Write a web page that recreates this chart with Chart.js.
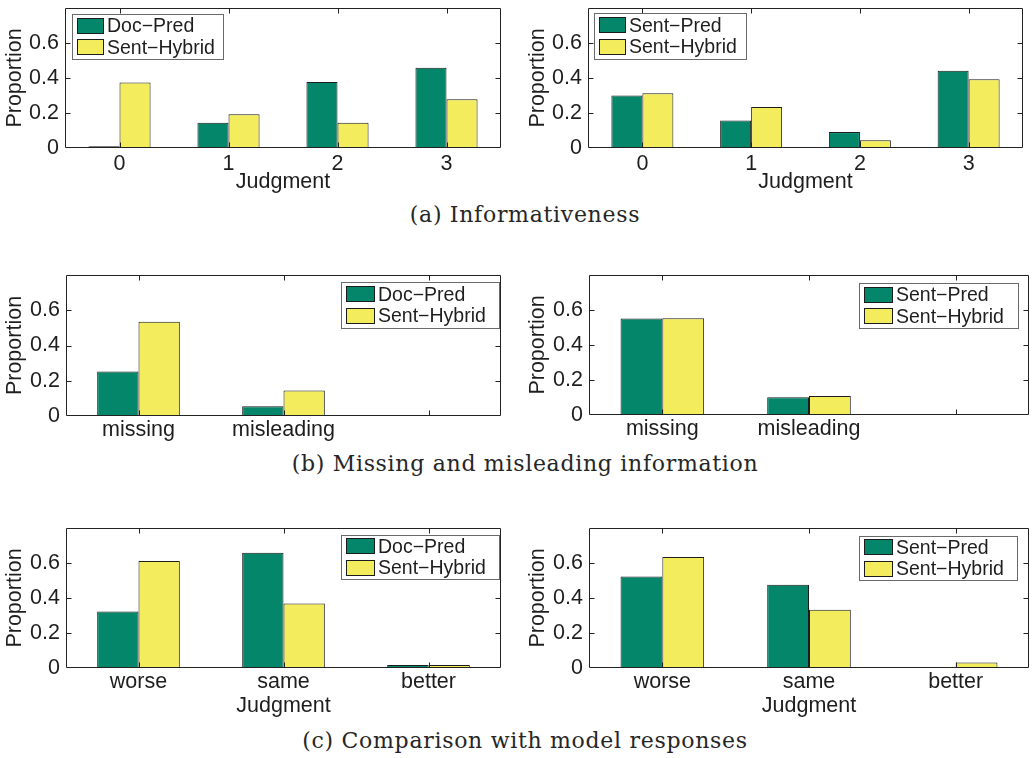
<!DOCTYPE html>
<html>
<head>
<meta charset="utf-8">
<script src="https://cdn.jsdelivr.net/npm/chart.js@4.4.1/dist/chart.umd.min.js"></script>
<style>
  html,body{margin:0;padding:0;background:#fff;}
  #wrap{position:relative;width:1033px;height:758px;background:#fff;overflow:hidden;}
  canvas{position:absolute;}
  .cap{position:absolute;left:0;width:1050px;text-align:center;font-family:"DejaVu Serif",serif;font-size:22px;line-height:22px;letter-spacing:0.7px;color:#262626;white-space:nowrap;}
</style>
</head>
<body>
<div id="wrap">
  <canvas id="p1"></canvas>
  <canvas id="p2"></canvas>
  <canvas id="p3"></canvas>
  <canvas id="p4"></canvas>
  <canvas id="p5"></canvas>
  <canvas id="p6"></canvas>
  <div class="cap" style="top:204px">(a) Informativeness</div>
  <div class="cap" style="top:453px">(b) Missing and misleading information</div>
  <div class="cap" style="top:730px">(c) Comparison with model responses</div>
</div>
<script>
// ---------- data ----------
const judgmentLabels = ['0', '1', '2', '3'];
const missLabels = ['missing', 'misleading', ''];
const compLabels = ['worse', 'same', 'better'];
const yTickValues = [0, 0.2, 0.4, 0.6];

const nameDocPred = 'Doc\u2212Pred';
const nameSentPred = 'Sent\u2212Pred';
const nameSentHybrid = 'Sent\u2212Hybrid';

const infoDocPred      = [0.010, 0.145, 0.377, 0.459];
const infoDocSentHyb   = [0.375, 0.193, 0.145, 0.278];
const infoSentPred     = [0.300, 0.157, 0.091, 0.442];
const infoSentSentHyb  = [0.313, 0.234, 0.044, 0.393];

const missDocPred      = [0.253, 0.055, null];
const missDocSentHyb   = [0.535, 0.144, null];
const missSentPred     = [0.551, 0.102, null];
const missSentSentHyb  = [0.553, 0.109, null];

const compDocPred      = [0.323, 0.659, 0.017];
const compDocSentHyb   = [0.612, 0.368, 0.017];
const compSentPred     = [0.523, 0.476, 0.000];
const compSentSentHyb  = [0.635, 0.333, 0.032];

// ---------- styling ----------
const GREEN = '#03866A';
const YELLOW = '#F3EC5C';
const EDGE = '#1c1c1c';
const TXT = '#1e1e1e';
const FAM = '"Liberation Sans", Arial, Helvetica, sans-serif';
const FS = 21.5;

const framePlugin = {
  id: 'frame',
  afterDatasetsDraw(chart) {
    const {ctx, chartArea, scales} = chart;
    const x = scales.x, y = scales.y;
    const L = Math.round(chartArea.left) + 0.5, R = Math.round(chartArea.right) - 0.5;
    const T = Math.round(chartArea.top) + 0.5, B = Math.round(chartArea.bottom) - 0.5;
    ctx.save();
    ctx.strokeStyle = '#222';
    ctx.lineWidth = 1;
    ctx.beginPath();
    ctx.rect(L, T, R - L, B - T);
    y.ticks.forEach(t => {
      if (t.value <= 0) return;
      const py = Math.round(y.getPixelForValue(t.value)) + 0.5;
      ctx.moveTo(L, py); ctx.lineTo(L + 5, py);
      ctx.moveTo(R, py); ctx.lineTo(R - 5, py);
    });
    x.ticks.forEach((t, i) => {
      const px = Math.round(x.getPixelForTick(i)) + 0.5;
      ctx.moveTo(px, T); ctx.lineTo(px, T + 5);
      ctx.moveTo(px, B); ctx.lineTo(px, B - 5);
    });
    ctx.stroke();
    ctx.restore();
  }
};

const boxLegendPlugin = {
  id: 'boxLegend',
  afterDraw(chart, args, o) {
    const ctx = chart.ctx, ca = chart.chartArea;
    const ds = chart.data.datasets;
    ctx.save();
    ctx.font = '19.5px ' + FAM;
    const w = o.w, h = o.h, rowH = 21.6;
    const x0 = Math.round(o.align === 'left' ? ca.left + o.dx : ca.right - o.dx - w);
    const y0 = Math.round(ca.top + o.dy);
    ctx.fillStyle = '#fff';
    ctx.fillRect(x0, y0, w, h);
    ctx.strokeStyle = '#6a6a6a';
    ctx.lineWidth = 1;
    ctx.strokeRect(x0 + 0.5, y0 + 0.5, Math.round(w), Math.round(h));
    const sw = o.sw, sh = 16;
    ds.forEach((d, i) => {
      const cy = y0 + h / 2 + (i - 0.5) * rowH;
      const sx = x0 + 5;
      const sy = Math.round(cy - sh / 2);
      ctx.fillStyle = d.backgroundColor;
      ctx.fillRect(sx, sy, sw, sh);
      ctx.strokeStyle = EDGE;
      ctx.strokeRect(sx + 0.5, sy + 0.5, sw - 1, sh - 1);
      ctx.fillStyle = TXT;
      ctx.textBaseline = 'middle';
      ctx.textAlign = 'left';
      ctx.fillText(d.label, sx + sw + 3, cy + 1);
    });
    ctx.restore();
  }
};

function zeroPad(s) {
  s.paddingTop = 0; s.paddingBottom = 0; s.paddingLeft = 0; s.paddingRight = 0;
}

function makePanel(id, g, labels, names, s1, s2, leg, xTitle) {
  const cv = document.getElementById(id);
  cv.width = g.w; cv.height = g.h;
  cv.style.left = g.x + 'px'; cv.style.top = g.y + 'px';
  cv.style.width = g.w + 'px'; cv.style.height = g.h + 'px';
  const font = {family: FAM, size: FS};
  new Chart(cv, {
    type: 'bar',
    data: {
      labels: labels,
      datasets: [
        {label: names[0], data: s1, backgroundColor: GREEN, borderColor: EDGE, borderWidth: 1,
         categoryPercentage: 0.57, barPercentage: 1.0},
        {label: names[1], data: s2, backgroundColor: YELLOW, borderColor: EDGE, borderWidth: 1,
         categoryPercentage: 0.57, barPercentage: 1.0}
      ]
    },
    options: {
      responsive: false,
      animation: false,
      devicePixelRatio: 1,
      layout: {autoPadding: false, padding: {top: g.pt, right: g.pr, left: 0, bottom: 0}},
      plugins: {legend: {display: false}, tooltip: {enabled: false}, boxLegend: leg},
      scales: {
        x: {
          grid: {display: false, drawTicks: false},
          border: {display: false},
          ticks: {font: font, color: TXT, padding: g.xtp, maxRotation: 0, minRotation: 0, autoSkip: false},
          title: {display: !!xTitle, text: xTitle || '', font: font, color: TXT, padding: {top: 0, bottom: g.xtb}},
          afterFit: s => { s.height = g.xh; zeroPad(s); }
        },
        y: {
          min: 0, max: 0.8,
          grid: {display: false, drawTicks: false},
          border: {display: false},
          afterBuildTicks: s => { s.ticks = yTickValues.map(v => ({value: v})); },
          ticks: {font: font, color: TXT, padding: 6, callback: v => String(v)},
          title: {display: true, text: 'Proportion', font: font, color: TXT, padding: {top: g.ytp, bottom: 0}},
          afterFit: s => { s.width = g.yw; zeroPad(s); }
        }
      }
    },
    plugins: [framePlugin, boxLegendPlugin]
  });
}

// (a) Informativeness
makePanel('p1', {x: 0, y: 0, w: 505, h: 200, pt: 8, pr: 4, xh: 52, yw: 65, xtp: 3, xtb: 5, ytp: 2},
  judgmentLabels, [nameDocPred, nameSentHybrid], infoDocPred, infoDocSentHyb,
  {align: 'left', dx: 7, dy: 6, w: 151, h: 45, sw: 27}, 'Judgment');
makePanel('p2', {x: 520, y: 0, w: 507, h: 200, pt: 8, pr: 4, xh: 52, yw: 68, xtp: 3, xtb: 5, ytp: 5},
  judgmentLabels, [nameSentPred, nameSentHybrid], infoSentPred, infoSentSentHyb,
  {align: 'left', dx: 6, dy: 5, w: 152, h: 46, sw: 27}, 'Judgment');

// (b) Missing and misleading information
makePanel('p3', {x: 0, y: 267, w: 505, h: 184, pt: 8, pr: 4, xh: 35, yw: 66, xtp: 1, xtb: 0, ytp: 2},
  missLabels, [nameDocPred, nameSentHybrid], missDocPred, missDocSentHyb,
  {align: 'right', dx: 2, dy: 7, w: 158, h: 46, sw: 29}, null);
makePanel('p4', {x: 520, y: 267, w: 513, h: 183, pt: 8, pr: 4, xh: 35, yw: 69, xtp: 1, xtb: 0, ytp: 5},
  missLabels, [nameSentPred, nameSentHybrid], missSentPred, missSentSentHyb,
  {align: 'right', dx: 11, dy: 8, w: 159, h: 45, sw: 29}, null);

// (c) Comparison with model responses
makePanel('p5', {x: 0, y: 520, w: 505, h: 200, pt: 8, pr: 4, xh: 52, yw: 66, xtp: 1, xtb: 1, ytp: 2},
  compLabels, [nameDocPred, nameSentHybrid], compDocPred, compDocSentHyb,
  {align: 'right', dx: 2, dy: 7, w: 158, h: 44, sw: 29}, 'Judgment');
makePanel('p6', {x: 520, y: 520, w: 513, h: 200, pt: 8, pr: 4, xh: 52, yw: 69, xtp: 1, xtb: 1, ytp: 5},
  compLabels, [nameSentPred, nameSentHybrid], compSentPred, compSentSentHyb,
  {align: 'right', dx: 12, dy: 8, w: 158, h: 44, sw: 29}, 'Judgment');
</script>
</body>
</html>
